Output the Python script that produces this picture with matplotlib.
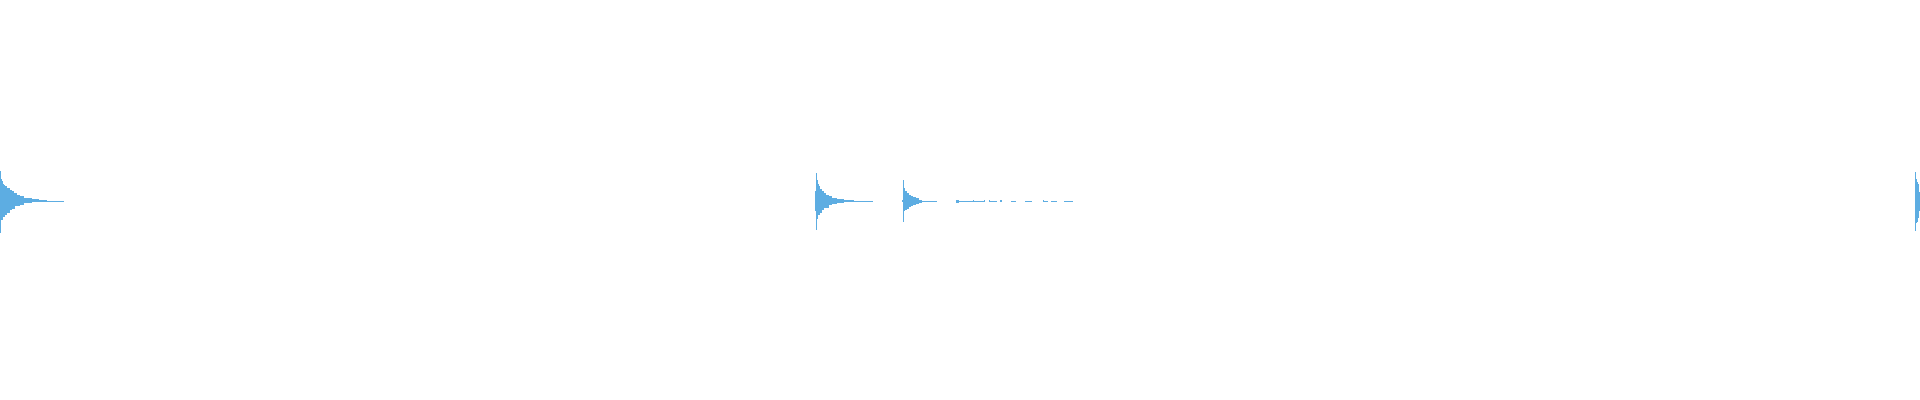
import matplotlib
matplotlib.use("Agg")
import matplotlib.pyplot as plt
import numpy as np

# waveform envelope, one value per display column (full scale = 1.0)
# each event: onset column, upper envelope, lower envelope
hit1_onset = 0
hit1_top = [0.150, 0.110, 0.100, 0.085, 0.080, 0.075, 0.075, 0.065, 0.065, 0.065,
            0.055, 0.055, 0.050, 0.050, 0.040, 0.040, 0.040, 0.030, 0.030, 0.030,
            0.025, 0.025, 0.025, 0.025, 0.015, 0.015, 0.015, 0.015, 0.015, 0.015,
            0.015, 0.015, 0.010, 0.010, 0.010, 0.010, 0.010, 0.010, 0.010, 0.005,
            0.005, 0.005, 0.005, 0.005, 0.005, 0.005, 0.005, 0.0025, 0.0025, 0.0025,
            0.0025, 0.0025, 0.0025, 0.0025, 0.0025, 0.0025, 0.0025, 0.0025, 0.0025,
            0.0025, 0.0025, 0.0025, 0.0025, 0.0025]
hit1_bot = [0.160, 0.095, 0.095, 0.080, 0.080, 0.070, 0.070, 0.060, 0.060, 0.060,
            0.045, 0.045, 0.040, 0.040, 0.040, 0.025, 0.025, 0.025, 0.025, 0.025,
            0.020, 0.020, 0.020, 0.020, 0.010, 0.010, 0.010, 0.010, 0.010, 0.010,
            0.010, 0.010, 0.0065, 0.0065, 0.0065, 0.0065, 0.0065, 0.0065, 0.0065, 0.0035,
            0.0035, 0.0035, 0.0035, 0.0035, 0.0035, 0.0035, 0.0035, 0.0025, 0.0025, 0.0025,
            0.0025, 0.0025, 0.0025, 0.0025, 0.0025, 0.0025, 0.0025, 0.0025, 0.0025,
            0.0025, 0.0025, 0.0025, 0.0025, 0.0025]

hit2_onset = 815
hit2_top = [0.050, 0.140, 0.105, 0.085, 0.075, 0.060, 0.060, 0.050, 0.050, 0.040,
            0.040, 0.030, 0.030, 0.030, 0.025, 0.025, 0.025, 0.015, 0.015, 0.015,
            0.015, 0.015, 0.010, 0.010, 0.010, 0.010, 0.010, 0.010, 0.010, 0.005,
            0.005, 0.005, 0.005, 0.005, 0.005, 0.005, 0.005, 0.005, 0.005, 0.0025,
            0.0025, 0.0025, 0.0025, 0.0025, 0.0025, 0.0025, 0.0025, 0.0025, 0.0025,
            0.0025, 0.0025, 0.0025, 0.0025, 0.0025, 0.0025, 0.0025, 0.0025, 0.0025]
hit2_bot = [0.050, 0.145, 0.090, 0.070, 0.070, 0.060, 0.060, 0.045, 0.045, 0.035,
            0.035, 0.035, 0.035, 0.035, 0.020, 0.020, 0.020, 0.015, 0.015, 0.015,
            0.015, 0.015, 0.010, 0.010, 0.010, 0.010, 0.010, 0.010, 0.010, 0.005,
            0.005, 0.005, 0.005, 0.005, 0.005, 0.005, 0.005, 0.005, 0.005, 0.0025,
            0.0025, 0.0025, 0.0025, 0.0025, 0.0025, 0.0025, 0.0025, 0.0025, 0.0025,
            0.0025, 0.0025, 0.0025, 0.0025, 0.0025, 0.0025, 0.0025, 0.0025, 0.0025]

hit3_onset = 902
hit3_top = [0.005, 0.105, 0.065, 0.050, 0.050, 0.040, 0.040, 0.030, 0.030, 0.025,
            0.025, 0.020, 0.020, 0.020, 0.015, 0.015, 0.015, 0.0075, 0.0075, 0.0075,
            0.0025, 0.0025, 0.0025, 0.0025, 0.0025, 0.0025, 0.0025, 0.0025, 0.0025,
            0.0025, 0.0025, 0.0025, 0.0025, 0.0025, 0.0025]
hit3_bot = [0.005, 0.105, 0.050, 0.045, 0.045, 0.040, 0.040, 0.030, 0.030, 0.025,
            0.025, 0.020, 0.020, 0.020, 0.015, 0.015, 0.015, 0.0075, 0.0075, 0.0075,
            0.0025, 0.0025, 0.0025, 0.0025, 0.0025, 0.0025, 0.0025, 0.0025, 0.0025,
            0.0025, 0.0025, 0.0025, 0.0025, 0.0025, 0.0025]

# low-level noise fragments after the third hit: onset, length, amplitude
noise_onsets = [956, 959, 973, 974, 984, 989, 990, 1000, 1011, 1025, 1043, 1044, 1051, 1064]
noise_lengths = [3, 14, 1, 10, 1, 1, 7, 2, 5, 7, 1, 4, 6, 9]
noise_amps = [0.0075, 0.0025, 0.005, 0.0025, 0.003, 0.005, 0.0025, 0.005,
              0.0025, 0.0025, 0.005, 0.0025, 0.0025, 0.0025]

hit4_onset = 1915
hit4_top = [0.145, 0.110, 0.095, 0.085, 0.045]
hit4_bot = [0.150, 0.110, 0.105, 0.085, 0.050]

total_columns = 1920
wave_color = "#5dade2"

fig = plt.figure(figsize=(19.2, 4), dpi=100)
ax = fig.add_axes([0, 0, 1, 1])


def draw_event(onset, top, bot):
    top = np.asarray(top)
    bot = np.asarray(bot)
    x = onset + np.arange(len(top))
    ax.bar(x, top + bot, bottom=-bot, width=1.0, align="edge",
           color=wave_color, linewidth=0, antialiased=False)


draw_event(hit1_onset, hit1_top, hit1_bot)
draw_event(hit2_onset, hit2_top, hit2_bot)
draw_event(hit3_onset, hit3_top, hit3_bot)
for start, n, a in zip(noise_onsets, noise_lengths, noise_amps):
    draw_event(start, [a] * n, [a] * n)
draw_event(hit4_onset, hit4_top, hit4_bot)

ax.set_xlim(0, total_columns)
ax.set_ylim(-0.995, 1.005)
ax.axis("off")

fig.savefig("out.png", dpi=100, facecolor="white")
